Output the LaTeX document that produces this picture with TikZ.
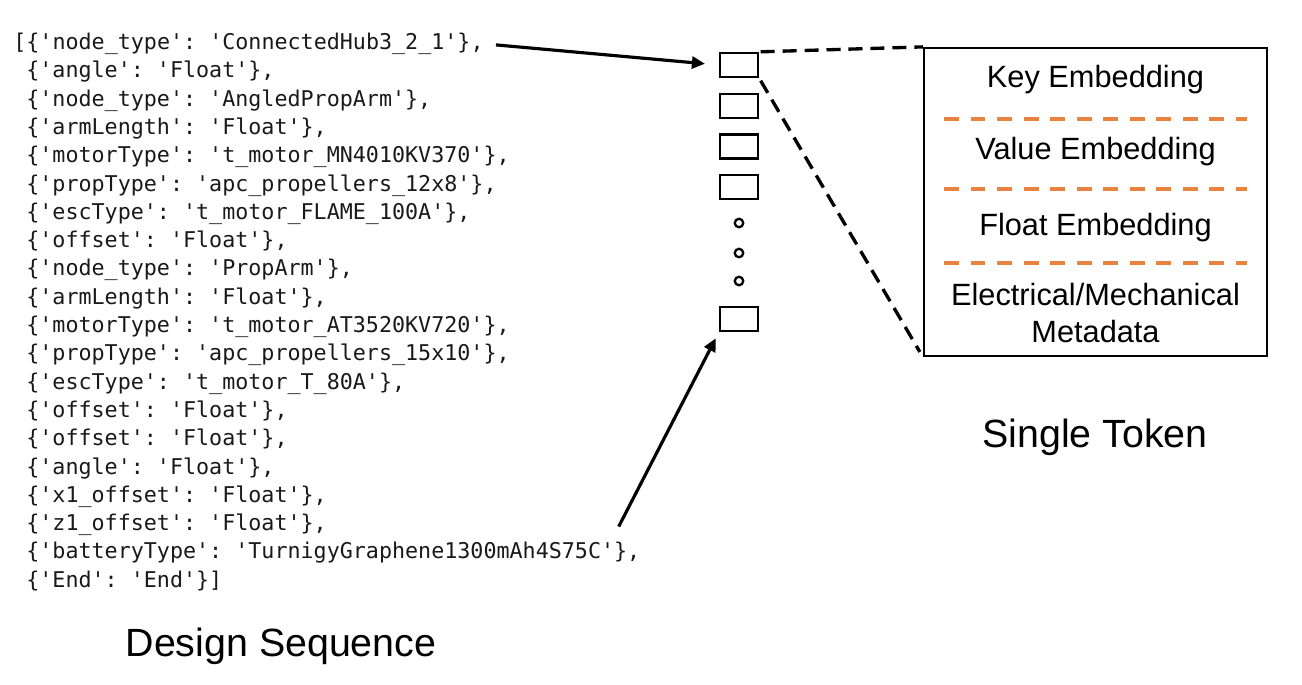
\documentclass[tikz,border=0pt]{standalone}
\usepackage{fontspec}
\setmainfont{Liberation Sans}
\setmonofont{DejaVu Sans Mono}
\usetikzlibrary{arrows.meta}
\usetikzlibrary{positioning}
\definecolor{sepcolor}{RGB}{232,131,64}

\tikzset{
  seqline/.style={anchor=base west, inner sep=0pt, text=black!90,
    font=\ttfamily\fontsize{12.35}{15}\selectfont},
  token/.style={draw, line width=1.3pt, minimum width=0.76cm,
    minimum height=0.48cm, inner sep=0pt},
  tokdot/.style={draw, circle, line width=1.3pt, minimum size=0.17cm, inner sep=0pt},
  seqarrow/.style={line width=1.8pt, -{Triangle[length=2.6mm,width=2.4mm]}},
  guide/.style={line width=1.9pt, dash pattern=on 8pt off 4.5pt},
  sepline/.style={sepcolor, line width=2pt, dash pattern=on 8.5pt off 6.6pt},
  emblabel/.style={font=\fontsize{17.5}{21}\selectfont, align=center},
  caption/.style={font=\fontsize{22.4}{26}\selectfont}
}

\begin{document}
\begin{tikzpicture}[x=0.02cm, y=-0.02cm]
  \useasboundingbox (0,0) rectangle (1302,684);
  \pgfmathsetmacro{\xa}{13}
  \pgfmathsetmacro{\xb}{26}
  \pgfmathsetmacro{\ya}{49.5}
  \pgfmathsetmacro{\dy}{28.3}

  % design sequence
  \node[seqline] (seq1) at (\xa, \ya) {[\{'node\_type': 'ConnectedHub3\_2\_1'\},};
  \node[seqline] (seq2) at (\xb, \ya+1*\dy) {\{'angle': 'Float'\},};
  \node[seqline] (seq3) at (\xb, \ya+2*\dy) {\{'node\_type': 'AngledPropArm'\},};
  \node[seqline] (seq4) at (\xb, \ya+3*\dy) {\{'armLength': 'Float'\},};
  \node[seqline] (seq5) at (\xb, \ya+4*\dy) {\{'motorType': 't\_motor\_MN4010KV370'\},};
  \node[seqline] (seq6) at (\xb, \ya+5*\dy) {\{'propType': 'apc\_propellers\_12x8'\},};
  \node[seqline] (seq7) at (\xb, \ya+6*\dy) {\{'escType': 't\_motor\_FLAME\_100A'\},};
  \node[seqline] (seq8) at (\xb, \ya+7*\dy) {\{'offset': 'Float'\},};
  \node[seqline] (seq9) at (\xb, \ya+8*\dy) {\{'node\_type': 'PropArm'\},};
  \node[seqline] (seq10) at (\xb, \ya+9*\dy) {\{'armLength': 'Float'\},};
  \node[seqline] (seq11) at (\xb, \ya+10*\dy) {\{'motorType': 't\_motor\_AT3520KV720'\},};
  \node[seqline] (seq12) at (\xb, \ya+11*\dy) {\{'propType': 'apc\_propellers\_15x10'\},};
  \node[seqline] (seq13) at (\xb, \ya+12*\dy) {\{'escType': 't\_motor\_T\_80A'\},};
  \node[seqline] (seq14) at (\xb, \ya+13*\dy) {\{'offset': 'Float'\},};
  \node[seqline] (seq15) at (\xb, \ya+14*\dy) {\{'offset': 'Float'\},};
  \node[seqline] (seq16) at (\xb, \ya+15*\dy) {\{'angle': 'Float'\},};
  \node[seqline] (seq17) at (\xb, \ya+16*\dy) {\{'x1\_offset': 'Float'\},};
  \node[seqline] (seq18) at (\xb, \ya+17*\dy) {\{'z1\_offset': 'Float'\},};
  \node[seqline] (seq19) at (\xb, \ya+18*\dy) {\{'batteryType': 'TurnigyGraphene1300mAh4S75C'\},};
  \node[seqline] (seq20) at (\xb, \ya+19*\dy) {\{'End': 'End'\}]};
  \node[caption] (design) at (281, 646) {Design Sequence};

  % tokens
  \node[token] (tok1) at (739, 65) {};
  \node[token, below=0.29cm of tok1] (tok2) {};
  \node[token, below=0.29cm of tok2] (tok3) {};
  \node[token, below=0.29cm of tok3] (tok4) {};
  \node[tokdot] (dot1) at (739, 223) {};
  \node[tokdot] (dot2) at (739, 253) {};
  \node[tokdot] (dot3) at (739, 281) {};
  \node[token] (tokn) at (739, 319) {};

  \draw[seqarrow, shorten <=0.24cm, shorten >=0.28cm] (seq1.east) -- (tok1.west);
  \coordinate (batt) at ([xshift=-0.44cm, yshift=0.31cm]seq19.north east);
  \draw[seqarrow, shorten >=0.14cm] (batt) -- (tokn.south west);

  % single token
  \node[draw, line width=1.3pt, minimum width=6.86cm, minimum height=6.16cm]
    (emb) at (1095.5, 202) {};
  \draw[guide, shorten <=0.03cm] (tok1.north east) -- (emb.north west);
  \draw[guide, shorten <=0.06cm, shorten >=0.12cm] (tok1.south east) -- (emb.south west);

  \node[emblabel] (key) at (1095.5, 80) {Key Embedding};
  \draw[sepline] (944, 119) -- (1247, 119);
  \node[emblabel] (val) at (1095.5, 152) {Value Embedding};
  \draw[sepline] (944, 189) -- (1247, 189);
  \node[emblabel] (flt) at (1095.5, 227.5) {Float Embedding};
  \draw[sepline] (944, 263) -- (1247, 263);
  \node[emblabel] (meta) at (1095.5, 313) {Electrical/Mechanical\\Metadata};

  \node[caption] (single) at (1095, 437) {Single Token};
\end{tikzpicture}
\end{document}
